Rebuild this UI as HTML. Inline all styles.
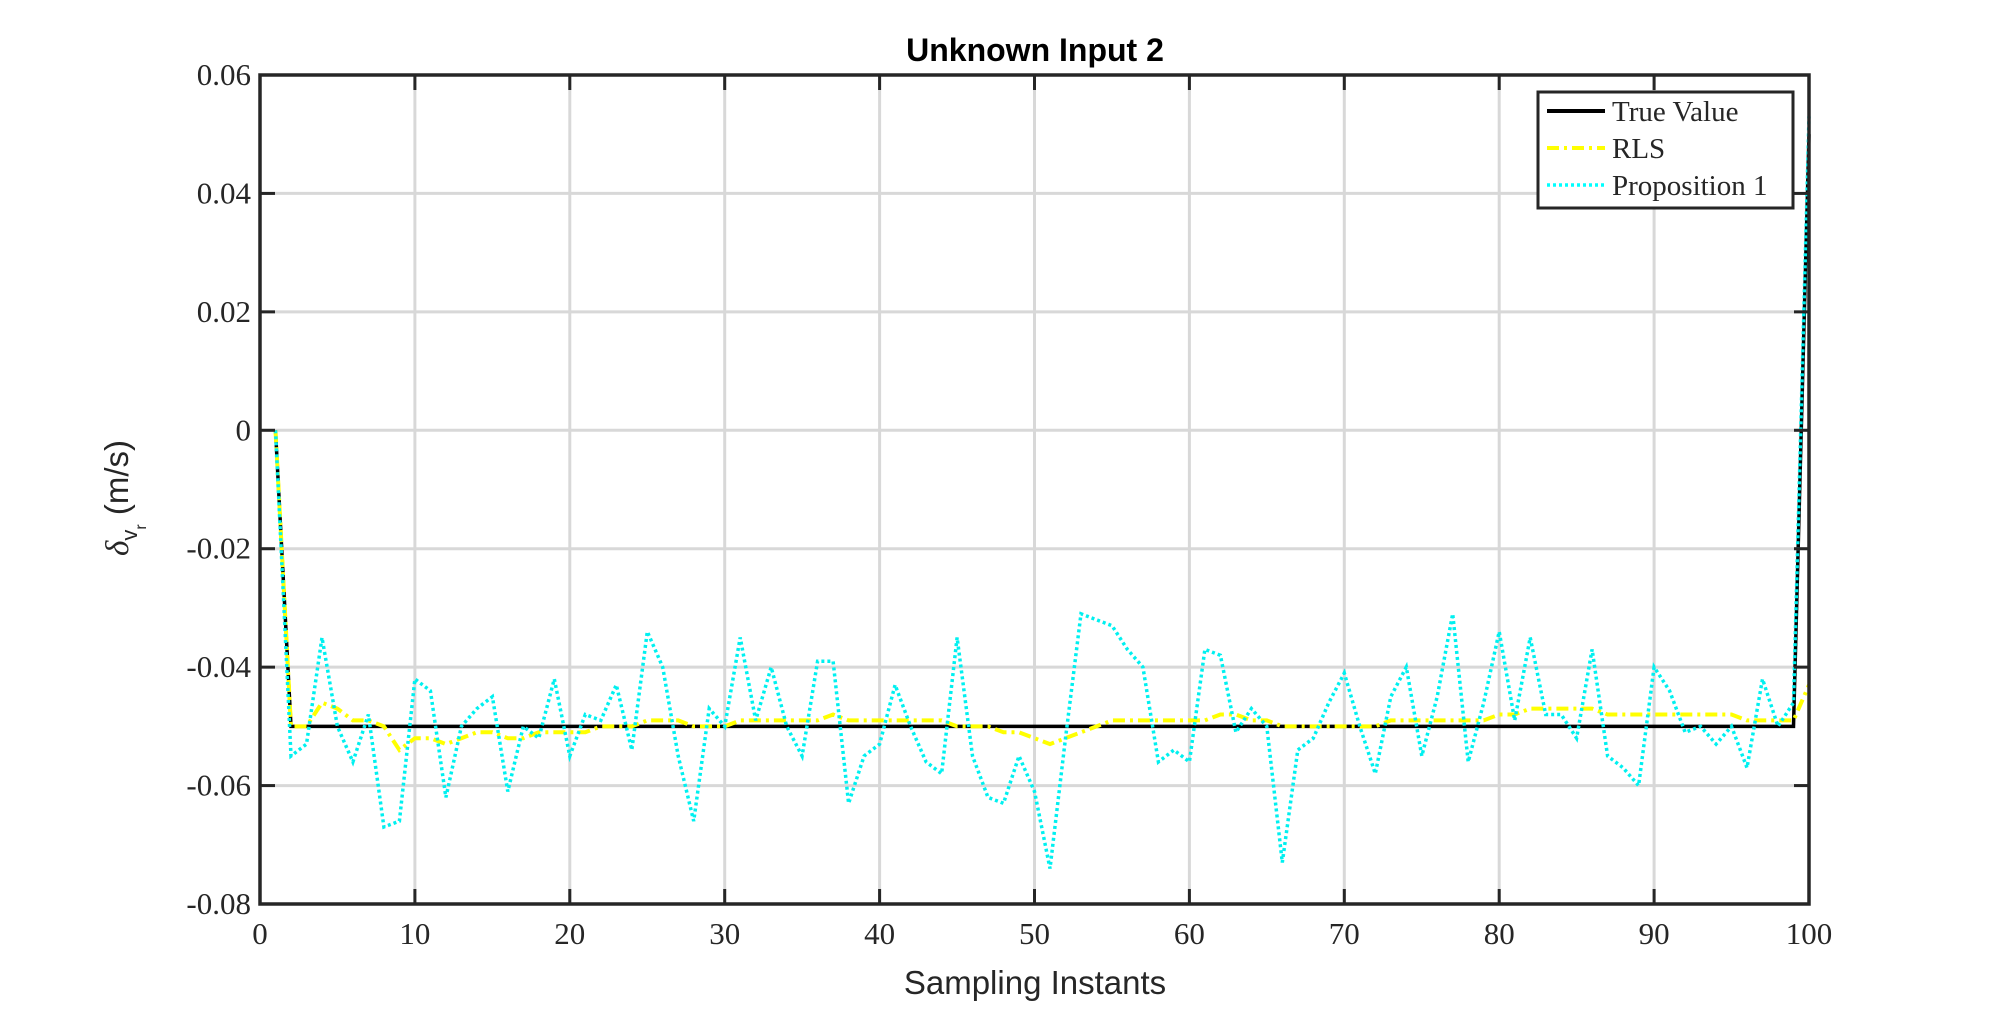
<!DOCTYPE html>
<html><head><meta charset="utf-8"><style>
body{margin:0;background:#fff}
svg{display:block}
.tk{font-family:"Liberation Serif",serif;font-size:31px;fill:#262626}
</style></head><body>
<svg id="chart" width="2000" height="1016" viewBox="0 0 2000 1016" xmlns="http://www.w3.org/2000/svg">
<rect width="2000" height="1016" fill="#fff"/>
<g id="grid"></g>
<g id="series"></g>
<rect x="260" y="75" width="1549" height="829" fill="none" stroke="#262626" stroke-width="3.5"/>
<g id="ticks"></g>
<text x="1035" y="61" text-anchor="middle" font-family="Liberation Sans,sans-serif" font-weight="bold" font-size="32" fill="#000">Unknown Input 2</text>
<text x="1035" y="994" text-anchor="middle" font-family="Liberation Sans,sans-serif" font-size="33" fill="#262626">Sampling Instants</text>
<g transform="translate(128,498) rotate(-90)">
<text text-anchor="middle" font-family="Liberation Sans,sans-serif" font-size="33" fill="#262626"><tspan font-family="Liberation Serif,serif" font-style="italic">δ</tspan><tspan font-size="22" dy="9">v</tspan><tspan font-size="16" dy="9">r</tspan><tspan dy="-18"> (m/s)</tspan></text>
</g>
<g>
<rect x="1538" y="92" width="255" height="116" fill="#fff" stroke="#262626" stroke-width="3"/>
<line x1="1547" y1="111" x2="1605" y2="111" stroke="#000" stroke-width="4"/>
<line x1="1547" y1="148" x2="1605" y2="148" stroke="#ffff00" stroke-width="4" stroke-dasharray="12,5,3,5"/>
<line x1="1547" y1="185" x2="1605" y2="185" stroke="#00ffff" stroke-width="3.5" stroke-dasharray="3,3"/>
<text class="tk" x="1612" y="121" style="font-size:29px">True Value</text>
<text class="tk" x="1612" y="158" style="font-size:29px">RLS</text>
<text class="tk" x="1612" y="195" style="font-size:29px">Proposition 1</text>
</g>
</svg>
<script>
const xTicks=[0,10,20,30,40,50,60,70,80,90,100];
const yTicks=[0.06,0.04,0.02,0,-0.02,-0.04,-0.06,-0.08];
const yTickLabels=["0.06","0.04","0.02","0","-0.02","-0.04","-0.06","-0.08"];
const trueVals=[0].concat(Array(98).fill(-0.05)).concat([0.05]);
const rlsVals=[0,-0.050,-0.050,-0.046,-0.047,-0.049,-0.049,-0.050,-0.054,-0.052,-0.052,-0.053,-0.052,-0.051,-0.051,-0.052,-0.052,-0.051,-0.051,-0.051,-0.051,-0.050,-0.050,-0.050,-0.049,-0.049,-0.049,-0.050,-0.050,-0.050,-0.049,-0.049,-0.049,-0.049,-0.049,-0.049,-0.048,-0.049,-0.049,-0.049,-0.049,-0.049,-0.049,-0.049,-0.050,-0.050,-0.050,-0.051,-0.051,-0.052,-0.053,-0.052,-0.051,-0.050,-0.049,-0.049,-0.049,-0.049,-0.049,-0.049,-0.049,-0.048,-0.048,-0.049,-0.049,-0.050,-0.050,-0.050,-0.050,-0.050,-0.050,-0.050,-0.049,-0.049,-0.049,-0.049,-0.049,-0.049,-0.049,-0.048,-0.048,-0.047,-0.047,-0.047,-0.047,-0.047,-0.048,-0.048,-0.048,-0.048,-0.048,-0.048,-0.048,-0.048,-0.048,-0.049,-0.049,-0.049,-0.049,-0.043];
const propVals=[0,-0.055,-0.053,-0.035,-0.050,-0.056,-0.048,-0.067,-0.066,-0.042,-0.044,-0.062,-0.050,-0.047,-0.045,-0.061,-0.050,-0.052,-0.042,-0.055,-0.048,-0.049,-0.043,-0.054,-0.034,-0.040,-0.055,-0.066,-0.047,-0.050,-0.035,-0.049,-0.040,-0.050,-0.055,-0.039,-0.039,-0.063,-0.055,-0.053,-0.043,-0.050,-0.056,-0.058,-0.035,-0.055,-0.062,-0.063,-0.055,-0.061,-0.074,-0.052,-0.031,-0.032,-0.033,-0.037,-0.040,-0.056,-0.054,-0.056,-0.037,-0.038,-0.051,-0.047,-0.050,-0.073,-0.054,-0.052,-0.046,-0.041,-0.050,-0.058,-0.045,-0.040,-0.055,-0.045,-0.031,-0.056,-0.046,-0.034,-0.049,-0.035,-0.048,-0.048,-0.052,-0.037,-0.055,-0.057,-0.060,-0.040,-0.044,-0.051,-0.050,-0.053,-0.050,-0.057,-0.042,-0.050,-0.046,0.053];
const X0=260,X1=1809,Y0=75,Y1=904;
function sx(v){return X0+(v-0)/(100-0)*(X1-X0);}
function sy(v){return Y0+(0.06-v)/(0.14)*(Y1-Y0);}
const NS="http://www.w3.org/2000/svg";
function mk(t,a,p){const e=document.createElementNS(NS,t);for(const k in a)e.setAttribute(k,a[k]);p.appendChild(e);return e;}
const grid=document.getElementById('grid'),ticks=document.getElementById('ticks'),ser=document.getElementById('series');
xTicks.forEach(v=>{
 if(v>0&&v<100){const g=mk('line',{x1:sx(v),x2:sx(v),y1:Y0,y2:Y1,stroke:'#d8d8d8','stroke-width':3},grid);
 
 
 mk('line',{x1:sx(v),x2:sx(v),y1:Y1,y2:Y1-15,stroke:'#262626','stroke-width':3},ticks);
 mk('line',{x1:sx(v),x2:sx(v),y1:Y0,y2:Y0+15,stroke:'#262626','stroke-width':3},ticks);}
 const t=mk('text',{x:sx(v),y:Y1+40,'text-anchor':'middle',class:'tk'},ticks);t.textContent=v;
 
 
});
yTicks.forEach((v,i)=>{
 if(i>0&&i<yTicks.length-1){const g=mk('line',{x1:X0,x2:X1,y1:sy(v),y2:sy(v),stroke:'#d8d8d8','stroke-width':3},grid);
 
 
 mk('line',{x1:X0,x2:X0+15,y1:sy(v),y2:sy(v),stroke:'#262626','stroke-width':3},ticks);
 mk('line',{x1:X1,x2:X1-15,y1:sy(v),y2:sy(v),stroke:'#262626','stroke-width':3},ticks);}
 const t=mk('text',{x:X0-9,y:sy(v)+10,'text-anchor':'end',class:'tk'},ticks);t.textContent=yTickLabels[i];
 
 
});
function pts(arr){return arr.map((v,i)=>sx(i+1).toFixed(1)+','+sy(v).toFixed(1)).join(' ');}
const l1=mk('polyline',{points:pts(trueVals),fill:'none',stroke:'#000','stroke-width':3.5},ser);


const l2=mk('polyline',{points:pts(rlsVals),fill:'none',stroke:'#ffff00','stroke-width':4,'stroke-dasharray':'12,5,3,5'},ser);


const l3=mk('polyline',{points:pts(propVals),fill:'none',stroke:'#00f0f0','stroke-width':3.5,'stroke-dasharray':'3,3'},ser);


</script>
</body></html>
